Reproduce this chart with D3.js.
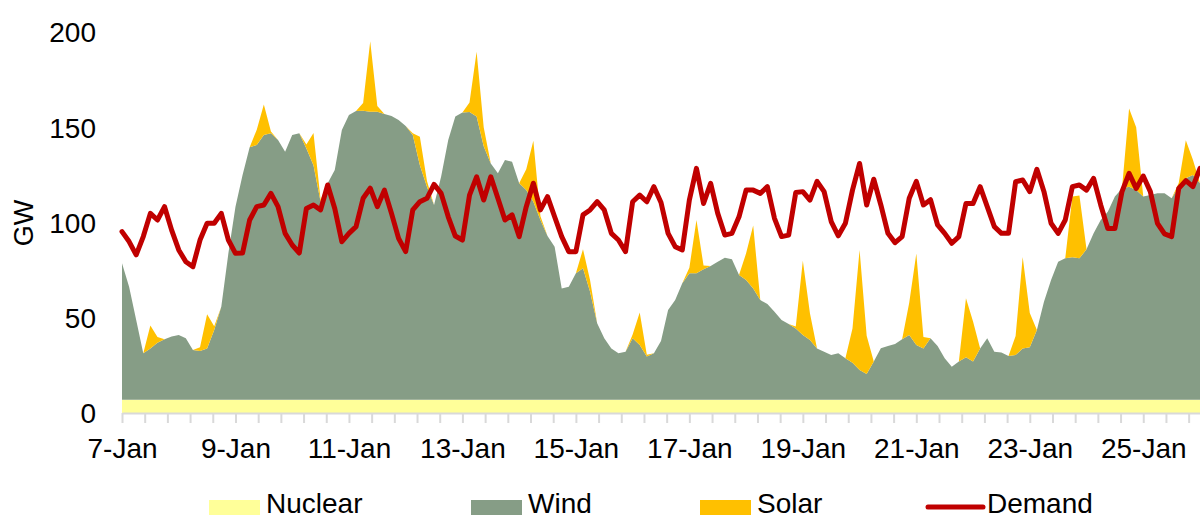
<!DOCTYPE html>
<html><head><meta charset="utf-8">
<script src="https://cdn.jsdelivr.net/npm/d3@7"></script>
<style>
body{margin:0;background:#fff}
svg{display:block}
text{font-family:"Liberation Sans",Arial,sans-serif;fill:#000}
</style>
</head><body>
<svg id="c" width="1200" height="518"></svg>
<script>
// ---- data (3-hourly samples from 7-Jan 00:00) ----
const dayLabels = ["7-Jan","9-Jan","11-Jan","13-Jan","15-Jan","17-Jan","19-Jan","21-Jan","23-Jan","25-Jan"];
const yTicks = [0,50,100,150,200];
const stepHours = 3;
const seriesNames = ["Nuclear","Wind","Solar","Demand"];

const nuclearGW = [
7,7,7,7,7,7,7,7,7,7,
7,7,7,7,7,7,7,7,7,7,
7,7,7,7,7,7,7,7,7,7,
7,7,7,7,7,7,7,7,7,7,
7,7,7,7,7,7,7,7,7,7,
7,7,7,7,7,7,7,7,7,7,
7,7,7,7,7,7,7,7,7,7,
7,7,7,7,7,7,7,7,7,7,
7,7,7,7,7,7,7,7,7,7,
7,7,7,7,7,7,7,7,7,7,
7,7,7,7,7,7,7,7,7,7,
7,7,7,7,7,7,7,7,7,7,
7,7,7,7,7,7,7,7,7,7,
7,7,7,7,7,7,7,7,7,7,
7,7,7,7,7,7,7,7,7,7,
7,7,7];

const windGW = [
71.6,59.3,41.8,24.3,26.9,29.9,31.7,33.1,33.9,32.2,
26.1,25.5,26.9,36.6,48.8,76.8,101.3,117.9,132.5,133.7,
138.9,139.8,136.3,130.2,138.9,139.8,131.9,123,103.9,113.6,
120.6,141.6,149.4,151.5,151.7,151.2,151.2,150,148.9,146.8,
143.7,138.9,123,111.8,102.2,117.1,136.3,148.6,150.7,151,
148.6,133,124,118.8,125.8,124.9,113.6,110,103.9,94.3,
85.9,80.3,58.4,59.3,66.3,69,56.7,40.1,32.2,26.9,
24.3,25.2,32.2,28.7,22.6,24.3,30.8,47.1,52.3,61.1,
66.3,66.3,68.4,70.2,72.4,74.5,73.7,65.4,62.8,58.4,
52.3,50.2,46.2,41.8,39.7,37.4,33.9,31.3,26.9,25.2,
23.4,24.3,21.7,19.4,15.6,13.5,20,27,28.2,29.2,
31.7,33.9,28.7,26.9,32.2,28.2,21.7,17.3,20,22.2,
20,26.9,32.2,25.2,24.7,22.9,23.4,26.9,27.5,36.6,
51.4,62.8,72.4,74.2,74.7,74.2,78.9,87.3,94.3,98.7,
106.6,110.9,111.8,110,106.6,107.4,108.3,108.3,105.7,111.8,
116.2,117.9,113.6];

const solarGW = [
0,0,0,0,12,3,0,0,0,0,
0,2,18,2,0,0,0,0,0,8,
16,1,0,0,0,0,2,17,1,0,
0,0,0,0,4,37,3,0,0,0,
0,1,15,3,0,0,0,0,0,5,
34,10,0,0,0,0,0,11,32,2,
0,0,0,0,0,10,6,0,0,0,
0,0,2,17,1,0,0,0,0,0,
3,28,2,0,0,0,0,0,14,33,
0,0,0,0,0,1,39,14,0,0,
0,0,0,18,63,20,0,0,0,0,
0,17,48,6,0,0,0,0,0,31,
21,0,0,0,0,0,10,48,18,0,
0,0,0,0,32,33,0,0,0,0,
0,0,41,33,0,0,0,0,0,2,
20,8,0];

const demandGW = [
95.2,90,83,92.6,104.8,101.3,108.3,96,85.6,79.4,
76.8,90.8,99.6,99.6,104.8,90.8,83.8,84,101.3,108.3,
109.2,115.3,108.3,94.3,88.2,84,107.4,109.2,106.6,119.7,
107.4,89.9,94.3,97.8,112.7,118,108.3,117,104.8,91.7,
84.7,106.6,110.9,112.7,120,115.3,103,92.9,90.8,114.4,
124,111.8,124,112.7,101.3,104,92.6,108.3,120.6,106.6,
113.6,103,92.6,84.7,84.7,104,106.6,110.9,106.6,94.3,
90.8,84.7,110.9,114.4,110.9,118.8,110.5,94.3,87.3,85.6,
111.8,128.4,110,120.6,104.8,93.4,94.3,103,117,117,
115.3,118.8,102.2,92.6,93.4,115.7,116.2,111.8,121.6,116.2,
100.5,93,99.6,117,131,109.2,122.7,109.2,94.3,89.4,
92.6,112.7,121.6,109.2,112,98.7,94.3,89.1,92.6,110,
110,118.8,108.3,97.8,94.3,94.3,121.4,122.3,116.2,127.9,
116.2,99.6,94.3,101.3,118.8,119.7,117,123.2,109.2,96.9,
96.9,116.2,125.8,117.9,124.4,116.2,99.6,94,92.6,117.9,
122,118.8,128.4];

// ---- chart ----
const colors = {Nuclear:"#FFFF99", Wind:"#869D86", Solar:"#FFC000", Demand:"#C00000"};
const table = demandGW.map((d,i)=>({
  t: i*stepHours/24, Nuclear: nuclearGW[i], Wind: windGW[i], Solar: solarGW[i], Demand: d
}));

const svg = d3.select("#c");
const x = d3.scaleLinear().domain([0,19]).range([122,1200]);
const y = d3.scaleLinear().domain([0,200]).range([413,32]);

const layers = d3.stack().keys(["Nuclear","Wind","Solar"])(table);
const area = d3.area().x(d=>x(d.data.t)).y0(d=>y(d[0])).y1(d=>y(d[1])).curve(d3.curveLinear);
svg.append("g").selectAll("path").data(layers).join("path")
  .attr("fill", d=>colors[d.key]).attr("d", area);

// x axis
const tickVals = d3.range(0,48).map(k=>k*0.4);
const xAxis = d3.axisBottom(x).tickValues(tickVals).tickSize(10).tickSizeOuter(0)
  .tickFormat((d,i)=> (i%5===0) ? dayLabels[i/5] : "");
const gx = svg.append("g").attr("transform","translate(0,413)").call(xAxis);
gx.select(".domain").attr("stroke","#D9D9D9").attr("stroke-width",2);
gx.selectAll(".tick line").attr("stroke","#D9D9D9").attr("stroke-width",2);
gx.selectAll(".tick text").attr("y",45).attr("dy",0).style("font-size","28px")
  .style("font-family","'Liberation Sans',Arial,sans-serif").attr("fill","#000");

// y labels
const yAxis = d3.axisLeft(y).tickValues(yTicks).tickSize(0).tickPadding(0);
const gy = svg.append("g").attr("transform","translate(96,0)").call(yAxis);
gy.select(".domain").remove();
gy.selectAll(".tick text").attr("x",0).attr("dy","0.355em").style("font-size","28px")
  .style("font-family","'Liberation Sans',Arial,sans-serif").attr("fill","#000");

svg.append("text").attr("transform","translate(33,223) rotate(-90)")
  .attr("text-anchor","middle").style("font-size","27px").text("GW");

// demand line
const line = d3.line().x(d=>x(d.t)).y(d=>y(d.Demand)).curve(d3.curveLinear);
svg.append("path").datum(table).attr("fill","none").attr("stroke",colors.Demand)
  .attr("stroke-width",5).attr("stroke-linejoin","round").attr("stroke-linecap","round")
  .attr("d",line);

// legend
const legendX = {Nuclear:209, Wind:471, Solar:700, Demand:928};
const lg = svg.append("g");
seriesNames.forEach(name=>{
  const lx = legendX[name];
  if(name==="Demand"){
    lg.append("line").attr("x1",lx).attr("x2",lx+55).attr("y1",507).attr("y2",507)
      .attr("stroke",colors[name]).attr("stroke-width",5).attr("stroke-linecap","round");
    lg.append("text").attr("x",lx+59).attr("y",513).style("font-size","28px").text(name);
  } else {
    lg.append("rect").attr("x",lx).attr("y",500).attr("width",51).attr("height",15).attr("fill",colors[name]);
    lg.append("text").attr("x",lx+57).attr("y",513).style("font-size","28px").text(name);
  }
});
</script>
</body></html>
